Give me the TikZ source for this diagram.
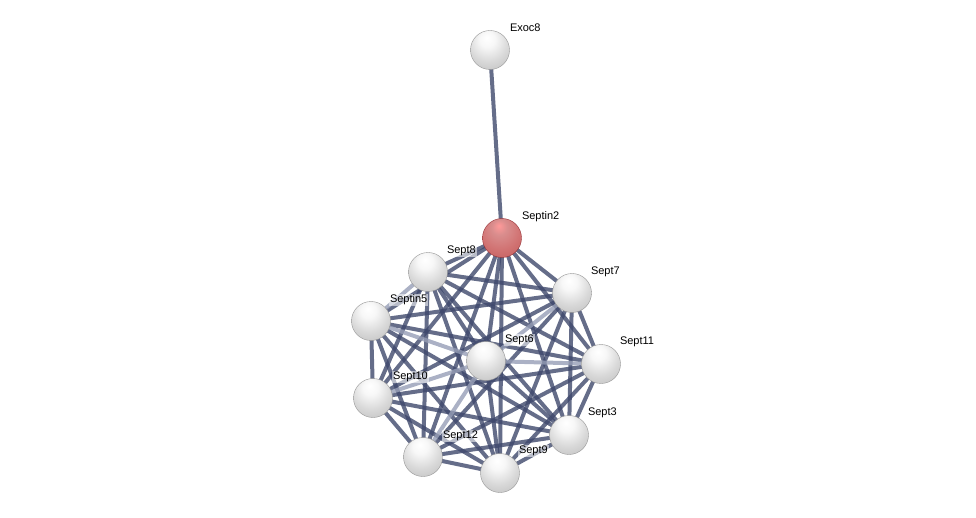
\documentclass[tikz,border=0pt]{standalone}
\usepackage{fontspec}
\setmainfont{Liberation Sans}
\pgfdeclareradialshading{greysphere}{\pgfpoint{-4bp}{16bp}}{%
  color(0bp)=(white); color(10bp)=(white!97!black); color(25bp)=(white!85!black);
  color(45bp)=(white!72!black); color(58bp)=(white!55!black); color(70bp)=(white!50!black)}
\pgfdeclareradialshading{redsphere}{\pgfpoint{-4bp}{16bp}}{%
  color(0bp)=(white!60!red); color(10bp)=(red!35!white!85!black); color(25bp)=(red!45!white!82!black);
  color(45bp)=(red!55!white!75!black); color(58bp)=(red!60!white!58!black); color(70bp)=(red!60!black)}
\begin{document}
\begin{tikzpicture}[x=1pt,y=-1pt,
  edge/.style={line width=4pt,draw={rgb,255:red,62;green,72;blue,108},opacity=0.8},
  lightedge/.style={line width=4pt,draw={rgb,255:red,150;green,158;blue,182},opacity=0.8},
  prot/.style={circle,minimum size=39pt,inner sep=0pt,shading=greysphere,draw={rgb,255:red,150;green,150;blue,150},line width=0.4pt},
  query/.style={prot,shading=redsphere,draw={rgb,255:red,150;green,50;blue,55}},
  lab/.style={anchor=west,font=\fontsize{11}{13}\selectfont,inner sep=0.8pt,fill=white,fill opacity=0.55,text opacity=1}]
\useasboundingbox (0,0) rectangle (976,518);
\coordinate (pExoc8) at (490,50);
\coordinate (pSeptin2) at (502,238);
\coordinate (pSept8) at (428,272);
\coordinate (pSept7) at (572,293);
\coordinate (pSeptin5) at (371,321);
\coordinate (pSept6) at (486,361);
\coordinate (pSept11) at (601,364);
\coordinate (pSept10) at (373,398);
\coordinate (pSept3) at (569,435);
\coordinate (pSept12) at (423,457);
\coordinate (pSept9) at (500,473);
% edges
\draw[edge] (pExoc8) -- (pSeptin2);
\foreach \a/\b in {Septin2/Sept8,Septin2/Sept7,Septin2/Septin5,Septin2/Sept6,Septin2/Sept11,Septin2/Sept10,Septin2/Sept3,Septin2/Sept12,Septin2/Sept9,
  Sept8/Sept7,Sept8/Sept6,Sept8/Sept11,Sept8/Sept10,Sept8/Sept3,Sept8/Sept12,Sept8/Sept9,
  Sept7/Septin5,Sept7/Sept11,Sept7/Sept10,Sept7/Sept3,Sept7/Sept12,Sept7/Sept9,
  Septin5/Sept11,Septin5/Sept10,Septin5/Sept3,Septin5/Sept12,Septin5/Sept9,
  Sept6/Sept3,Sept6/Sept9,
  Sept11/Sept10,Sept11/Sept3,Sept11/Sept12,Sept11/Sept9,
  Sept10/Sept3,Sept10/Sept9,Sept10/Sept12,
  Sept3/Sept12,Sept3/Sept9,Sept12/Sept9}
  {\draw[edge] (p\a) -- (p\b);}
\foreach \a/\b in {Sept8/Septin5,Septin5/Sept6,Sept6/Sept7,Sept6/Sept11,Sept6/Sept10,Sept6/Sept12}
  {\draw[lightedge] (p\a) -- (p\b);}
% nodes
\node[prot] (Exoc8) at (pExoc8) {};
\node[query] (Septin2) at (pSeptin2) {};
\node[prot] (Sept8) at (pSept8) {};
\node[prot] (Sept7) at (pSept7) {};
\node[prot] (Septin5) at (pSeptin5) {};
\node[prot] (Sept6) at (pSept6) {};
\node[prot] (Sept11) at (pSept11) {};
\node[prot] (Sept10) at (pSept10) {};
\node[prot] (Sept3) at (pSept3) {};
\node[prot] (Sept12) at (pSept12) {};
\node[prot] (Sept9) at (pSept9) {};
% labels
\node[lab] (lExoc8) at (509,28) {Exoc8};
\node[lab] (lSeptin2) at (521,217) {Septin2};
\node[lab] (lSept8) at (446,251) {Sept8};
\node[lab] (lSept7) at (590,272) {Sept7};
\node[lab] (lSeptin5) at (389,300) {Septin5};
\node[lab] (lSept6) at (504,340) {Sept6};
\node[lab] (lSept11) at (619,342) {Sept11};
\node[lab] (lSept10) at (392,377) {Sept10};
\node[lab] (lSept3) at (587,413) {Sept3};
\node[lab] (lSept12) at (442,436) {Sept12};
\node[lab] (lSept9) at (518,451) {Sept9};
\end{tikzpicture}
\end{document}
